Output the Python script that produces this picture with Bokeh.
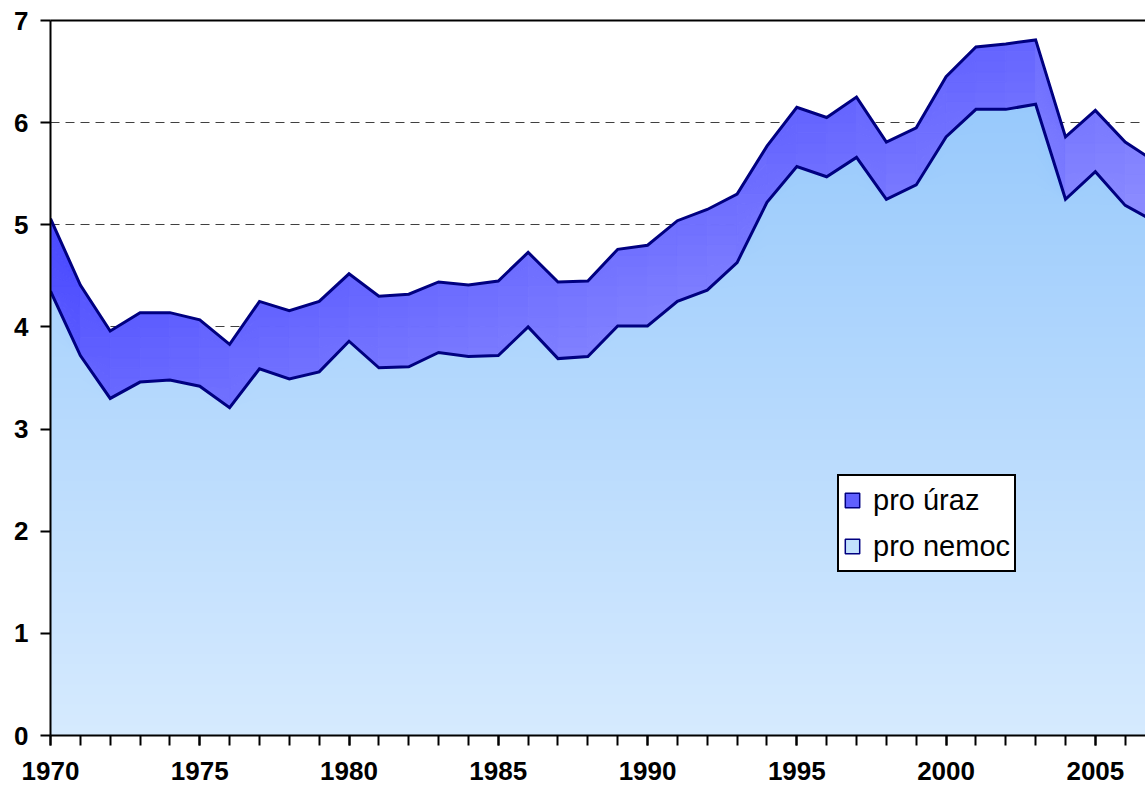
import numpy as np
from bokeh.plotting import figure
from bokeh.models import (Range1d, FixedTicker, LinearAxis, Legend, LegendItem,
                          ColumnDataSource)
from bokeh.embed import file_html
from bokeh.resources import INLINE

# ---------------- data ----------------
years = list(range(1970, 2008))
pro_nemoc = [4.35, 3.72, 3.30, 3.46, 3.48, 3.42, 3.21, 3.59, 3.49, 3.56,
             3.86, 3.60, 3.61, 3.75, 3.71, 3.72, 4.00, 3.69, 3.71, 4.01,
             4.01, 4.25, 4.36, 4.63, 5.22, 5.57, 5.47, 5.66, 5.25, 5.39,
             5.86, 6.13, 6.13, 6.18, 5.25, 5.52, 5.19, 5.03]
pro_uraz = [0.71, 0.69, 0.66, 0.68, 0.66, 0.65, 0.62, 0.66, 0.67, 0.69,
            0.66, 0.70, 0.71, 0.69, 0.70, 0.73, 0.73, 0.75, 0.74, 0.75,
            0.79, 0.79, 0.79, 0.67, 0.55, 0.58, 0.58, 0.59, 0.56, 0.56,
            0.59, 0.61, 0.64, 0.63, 0.61, 0.60, 0.62, 0.59]
x_label_years = [1970, 1975, 1980, 1985, 1990, 1995, 2000, 2005]
y_ticks = [0, 1, 2, 3, 4, 5, 6, 7]
series_labels = ["pro úraz", "pro nemoc"]

# ---------------- styles ----------------
FONT = "Liberation Sans"
NAVY = "#000080"
NEMOC_LOW = (214, 234, 254)   # colour near 0
NEMOC_HIGH = (152, 201, 252)  # colour near the top
URAZ_DARK = (76, 76, 255)
URAZ_LIGHT = (138, 138, 255)


def mix(c0, c1, t):
    t = min(max(t, 0.0), 1.0)
    return "#%02x%02x%02x" % tuple(int(round(a + (b - a) * t)) for a, b in zip(c0, c1))


x = np.array(years, dtype=float)
lo = np.array(pro_nemoc)
hi = lo + np.array(pro_uraz)

p = figure(width=1145, height=785,
           x_range=Range1d(1970, 2006.68), y_range=Range1d(0, 7),
           output_backend="svg", toolbar_location=None,
           min_border_left=50, min_border_right=0,
           min_border_top=20, min_border_bottom=50,
           background_fill_color="white", border_fill_color="white",
           outline_line_color=None)

# ---- "pro nemoc" area with vertical gradient (painter's order) ----
step = 0.1
for b in np.arange(7.0, 0.0, -step):
    col = mix(NEMOC_LOW, NEMOC_HIGH, (b - step / 2) / 6.2)
    p.varea(x=x, y1=0, y2=np.minimum(lo, b), fill_color=col)

# ---- "pro úraz" area with diagonal gradient ----
xs_l, ys_l, cols = [], [], []
for i in range(len(x) - 1):
    for a in np.arange(3.0, 7.0, step):
        b = a + step
        l0 = min(max(a, lo[i]), hi[i]); l1 = min(max(a, lo[i + 1]), hi[i + 1])
        h0 = min(max(b, lo[i]), hi[i]); h1 = min(max(b, lo[i + 1]), hi[i + 1])
        if h0 - l0 < 1e-9 and h1 - l1 < 1e-9:
            continue
        xs_l.append([x[i], x[i + 1], x[i + 1], x[i]])
        ys_l.append([l0, l1, h1, h0])
        vc = (l0 + l1 + h0 + h1) / 4.0
        xc = (x[i] + x[i + 1]) / 2.0
        t = 1.412 + 0.03284 * (xc - 1970) - 0.306 * vc
        cols.append(mix(URAZ_DARK, URAZ_LIGHT, t))
src = ColumnDataSource(dict(xs=xs_l, ys=ys_l, c=cols))
p.patches("xs", "ys", source=src, fill_color="c", line_color="c", line_width=1)

# ---- outlines ----
p.line(x, lo, line_color=NAVY, line_width=3, line_join="miter")
p.line(x, hi, line_color=NAVY, line_width=3, line_join="miter")

# ---- grid ----
p.xgrid.visible = False
p.ygrid.ticker = FixedTicker(ticks=y_ticks)
p.ygrid.grid_line_color = "#404040"
p.ygrid.grid_line_dash = "9 6"
p.ygrid.grid_line_width = 1

# ---- axes ----
xa = p.xaxis[0]
xa.ticker = FixedTicker(ticks=x_label_years, minor_ticks=years)
xa.axis_line_width = 2
xa.axis_line_color = "black"
xa.major_tick_out = 10
xa.major_tick_in = 0
xa.minor_tick_out = 10
xa.minor_tick_in = 0
xa.major_tick_line_width = 2
xa.minor_tick_line_width = 2
xa.major_tick_line_color = "black"
xa.minor_tick_line_color = "black"
xa.major_label_text_font = FONT
xa.major_label_text_font_style = "bold"
xa.major_label_text_font_size = "26px"
xa.major_label_text_color = "black"
xa.major_label_standoff = 16

ya = p.yaxis[0]
ya.ticker = FixedTicker(ticks=y_ticks)
ya.axis_line_width = 2
ya.axis_line_color = "black"
ya.major_tick_out = 10
ya.major_tick_in = 0
ya.minor_tick_out = 0
ya.minor_tick_in = 0
ya.major_tick_line_width = 2
ya.major_tick_line_color = "black"
ya.major_label_text_font = FONT
ya.major_label_text_font_style = "bold"
ya.major_label_text_font_size = "26px"
ya.major_label_text_color = "black"
ya.major_label_standoff = 12

top_axis = LinearAxis(ticker=FixedTicker(ticks=[]), major_label_text_font_size="0px",
                      axis_line_width=2, axis_line_color="black",
                      major_tick_out=0, major_tick_in=0,
                      minor_tick_out=0, minor_tick_in=0)
p.add_layout(top_axis, "above")

# ---- legend ----
r_uraz = p.patch(x=[np.nan], y=[np.nan], fill_color="#6060FF", line_color=NAVY, line_width=1.5)
r_nemoc = p.patch(x=[np.nan], y=[np.nan], fill_color="#C2E1FD", line_color=NAVY, line_width=1.5)
legend = Legend(items=[LegendItem(label=series_labels[0], renderers=[r_uraz]),
                       LegendItem(label=series_labels[1], renderers=[r_nemoc])],
                location=(787, 163), margin=0, padding=4, spacing=6,
                label_height=40, glyph_width=18, glyph_height=18,
                label_standoff=12,
                label_text_font=FONT, label_text_font_size="29px",
                label_text_color="black",
                border_line_color="black", border_line_width=2,
                border_line_alpha=1.0,
                background_fill_color="white", background_fill_alpha=1.0)
p.add_layout(legend)

open("out.html", "w").write(file_html(p, INLINE))
